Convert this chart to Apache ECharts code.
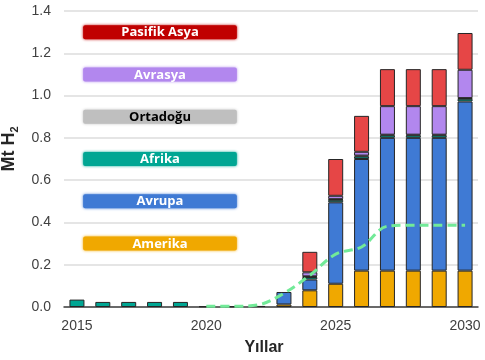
<!DOCTYPE html>
<html>
<head>
<meta charset="utf-8">
<script src="https://cdn.jsdelivr.net/npm/echarts@6/dist/echarts.min.js"></script>
<style>html,body{margin:0;padding:0;background:#fff}#c{width:485px;height:360px}</style>
</head>
<body>
<div id="c"></div>
<script>
var years = ['2015','2016','2017','2018','2019','2020','2021','2022','2023','2024','2025','2026','2027','2028','2029','2030'];
var amerika  = [null,null,null,null,null,null,null,null,0.012,0.079,0.110,0.172,0.172,0.172,0.172,0.172];
var avrupa   = [null,null,null,null,null,null,null,null,0.059,0.051,0.385,0.528,0.628,0.628,0.628,0.800];
var afrika   = [0.035,0.024,0.024,0.024,0.024,0.003,0.003,0.005,null,0.012,0.012,0.012,0.012,0.012,0.012,0.013];
var ortadogu = [null,null,null,null,null,null,null,null,null,0.003,0.003,0.004,0.003,0.003,0.003,0.003];
var avrasya  = [null,null,null,null,null,null,null,null,null,0.019,0.016,0.018,0.135,0.135,0.135,0.134];
var pasifik  = [null,null,null,null,null,null,null,null,null,0.097,0.174,0.170,0.175,0.175,0.175,0.174];
var trend    = [null,null,null,null,null,0.003,0.003,0.010,0.065,0.150,0.250,0.284,0.382,0.387,0.387,0.387];
var yTicks = [0,0.2,0.4,0.6,0.8,1.0,1.2,1.4];

var legendNames = ['Pasifik Asya','Avrasya','Ortadoğu','Afrika','Avrupa','Amerika'];
var legendY = [1.3,1.1,0.9,0.7,0.5,0.3];
var legendColors = ['#C00000','#B287EE','#BFBFBF','#00A693','#3F7AD4','#F0A800'];
var legendText = ['#ffffff','#ffffff','#000000','#ffffff','#ffffff','#ffffff'];

var chart = echarts.init(document.getElementById('c'));
var border = {borderColor:'#262626', borderWidth:1};
function barS(name, data, color){
  return {name:name, type:'bar', stack:'t', data:data, barWidth:15,
    itemStyle:Object.assign({color:color}, border)};
}
var legendData = legendNames.map(function(n,i){return [0, legendY[i], i];});

chart.setOption({
  animation:false,
  grid:{left:64, right:7, top:11, bottom:53, containLabel:false, outerBoundsMode:'none'},
  xAxis:{type:'category', data:years,
    axisLine:{lineStyle:{color:'#404040', width:1.5}},
    axisTick:{show:false},
    axisLabel:{interval:4, color:'#404040', fontSize:14, fontFamily:'Liberation Sans', margin:12},
    name:'Yıllar', nameLocation:'middle', nameGap:33,
    nameTextStyle:{fontWeight:'bold', fontSize:16, color:'#262626', fontFamily:'Liberation Sans', padding:[0,14,0,0]}
  },
  yAxis:{type:'value', min:0, max:1.4, interval:0.2,
    axisLine:{show:false}, axisTick:{show:false},
    splitLine:{lineStyle:{color:'#DCDCDC', width:1.5}},
    axisLabel:{color:'#404040', fontSize:14, fontFamily:'Liberation Sans', margin:13,
      formatter:function(v){return v.toFixed(1);}},
    name:'Mt H{s|2}', nameLocation:'middle', nameGap:44, nameRotate:90,
    nameTextStyle:{fontWeight:'bold', fontSize:18, color:'#262626', fontFamily:'Liberation Sans', padding:[0,0,0,20],
      rich:{s:{fontSize:11, fontWeight:'bold', color:'#262626', verticalAlign:'bottom', padding:[10,0,0,0], fontFamily:'Liberation Sans'}}}
  },
  series:[
    barS('Amerika', amerika, '#F0A800'),
    barS('Avrupa', avrupa, '#3F7AD4'),
    barS('Afrika', afrika, '#00A693'),
    barS('Ortadoğu', ortadogu, '#BFBFBF'),
    barS('Avrasya', avrasya, '#B287EE'),
    barS('Pasifik Asya', pasifik, '#E64646'),
    {type:'line', data:trend, smooth:0.35, symbol:'none', z:5,
      lineStyle:{color:'#72EA98', width:3, type:[9,5]}},
    {type:'custom', data:legendData, z:4,
      renderItem:function(params, api){
        var i = api.value(2);
        var w = api.size([1,0])[0];
        var p0 = api.coord([0, api.value(1)]);
        var p1 = api.coord([6, api.value(1)]);
        var x0 = p0[0] + 0.24*w, x1 = p1[0] + 0.18*w;
        var h = 14;
        return {type:'group', children:[
          {type:'rect', shape:{x:x0, y:p0[1]-h/2, width:x1-x0, height:h, r:2},
           style:{fill:legendColors[i], shadowBlur:3, shadowColor:legendColors[i]}},
          {type:'text', style:{text:legendNames[i], x:(x0+x1)/2, y:p0[1]+0.5, align:'center', verticalAlign:'middle',
            fill:legendText[i], font:'bold 13px "Open Sans"'}}
        ]};
      }}
  ]
});
</script>
</body>
</html>
